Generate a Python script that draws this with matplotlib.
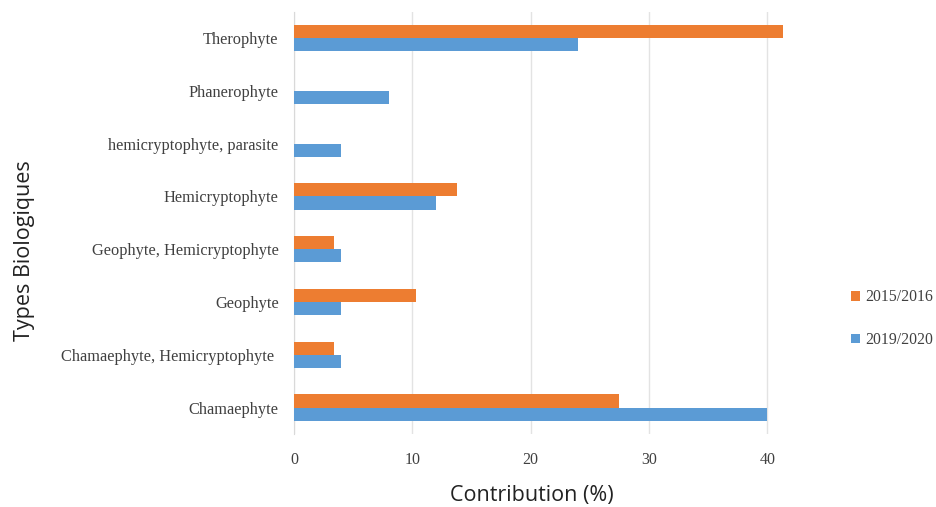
import matplotlib.pyplot as plt
import numpy as np

# Types biologiques, de bas en haut
categories = ['Chamaephyte', 'Chamaephyte, Hemicryptophyte ', 'Geophyte',
              'Geophyte, Hemicryptophyte', 'Hemicryptophyte',
              'hemicryptophyte, parasite', 'Phanerophyte', 'Therophyte']
val_2015 = [27.5, 3.4, 10.3, 3.4, 13.8, 0, 0, 41.3]
val_2019 = [40, 4, 4, 4, 12, 4, 8, 24]
xticks = [0, 10, 20, 30, 40]

orange = '#ED7D31'
bleu = '#5B9BD5'

fig = plt.figure(figsize=(9.36, 5.07), dpi=100)
ax = fig.add_axes([0.314, 0.144, 0.531, 0.833])

y = np.arange(len(categories))
h = 0.25
ax.barh(y + h / 2, val_2015, height=h, color=orange, label='2015/2016', zorder=3)
ax.barh(y - h / 2, val_2019, height=h, color=bleu, label='2019/2020', zorder=3)

ax.set_ylim(-0.5, len(categories) - 0.5)
ax.set_xlim(0, 42)
ax.set_xticks(xticks)
ax.set_xticklabels([str(t) for t in xticks], family='Liberation Serif', fontsize=11.5, color='#404040')
ax.set_yticks(y)
ax.set_yticklabels(categories, family='Liberation Serif', fontsize=11.8, color='#404040')
ax.tick_params(axis='both', length=0)
ax.tick_params(axis='x', pad=13)
ax.tick_params(axis='y', pad=11)

ax.grid(axis='x', color='#e3e3e3', linewidth=1, zorder=0)
for s in ['top', 'right', 'bottom']:
    ax.spines[s].set_visible(False)
ax.spines['left'].set_color('#d9d9d9')

ax.set_xlabel('Contribution (%)', family='Open Sans', fontsize=15.5, color='#222222', va='center')
ax.xaxis.set_label_coords(0.479, -0.145)
ax.set_ylabel('Types Biologiques', family='Open Sans', fontsize=15.5, color='#222222',
              va='center', ha='center')
ax.yaxis.set_label_coords(-0.543, 0.434)

leg = ax.legend(loc='center left', bbox_to_anchor=(1.121, 0.273), frameon=False, borderpad=0,
                borderaxespad=0, handlelength=0.6, handleheight=0.6, handletextpad=0.3,
                labelspacing=1.7, prop={'family': 'Liberation Serif', 'size': 11.3})
for t in leg.get_texts():
    t.set_color('#404040')

fig.savefig('out.png', dpi=100)
